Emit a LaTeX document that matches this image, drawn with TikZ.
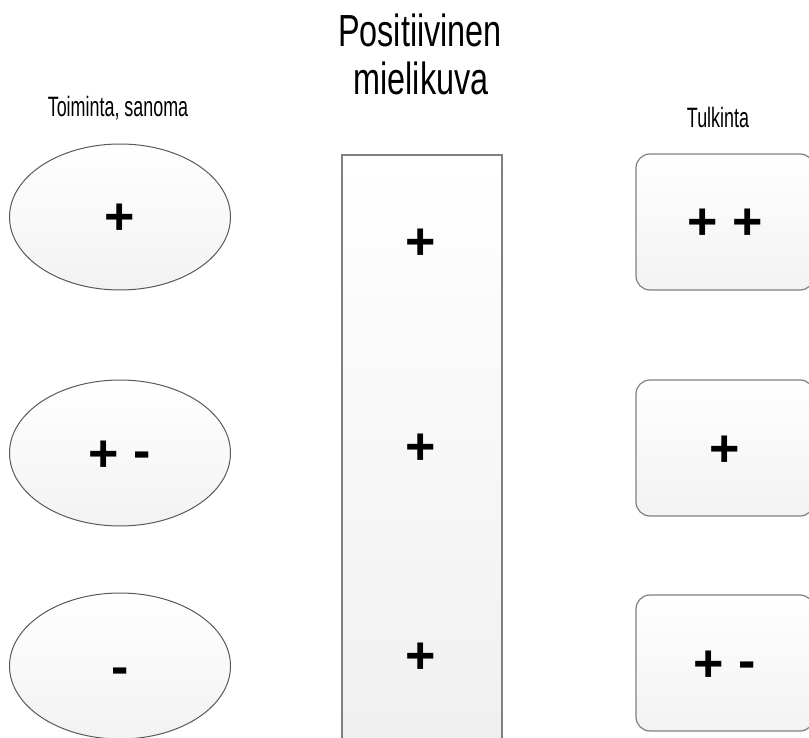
\documentclass[tikz,border=0pt]{standalone}
\usepackage{fontspec}
\usepackage{xcolor}
\usetikzlibrary{shapes}
\usetikzlibrary{shapes.geometric}
\newfontfamily\narrowfont[FakeStretch=0.64]{Liberation Sans}
\newfontfamily\titlefont[FakeStretch=0.72]{Liberation Sans}
\newfontfamily\signfont{Liberation Sans}
\newcommand{\minus}{\raisebox{3pt}{-}}

\begin{document}
\begin{tikzpicture}[x=1pt,y=-1pt,
	sign/.style={font=\signfont\bfseries\fontsize{52}{52}\selectfont,text height=36pt,text depth=0pt},
	oval/.style={ellipse,draw=black!65,line width=1pt,top color=white,bottom color=black!5,
		minimum width=221pt,minimum height=146pt,inner sep=0pt,sign},
	roundbox/.style={rectangle,rounded corners=14pt,draw=black!50,line width=1.2pt,
		top color=white,bottom color=black!5,minimum width=178pt,minimum height=136pt,sign},
	caption/.style={anchor=base,font=\narrowfont\fontsize{28}{28}\selectfont}]
	\useasboundingbox (0,0) rectangle (809,738);

	% otsikot
	\node[anchor=base,font=\titlefont\fontsize{45}{45}\selectfont] (title1) at (420,47) {Positiivinen};
	\node[anchor=base,font=\titlefont\fontsize{45}{45}\selectfont] (title2) at (421,95) {mielikuva};
	\node[caption] (toiminta) at (118,117) {Toiminta, sanoma};
	\node[caption] (tulkinta) at (718,128) {Tulkinta};

	% toiminta
	\node[oval] (act1) at (120,217) {+};
	\node[oval] (act2) at (120,453) {+ \minus};
	\node[oval] (act3) at (120,666) {-};

	% mielikuva
	\node[rectangle,draw=black!50,line width=1.2pt,top color=white,bottom color=black!6,
		minimum width=160pt,minimum height=590pt] (bar) at (422,450) {};
	\node[sign] (img1) at (421,242) {+};
	\node[sign] (img2) at (421,446) {+};
	\node[sign] (img3) at (421,655) {+};

	% tulkinta
	\node[roundbox] (int1) at (725,222) {+ +};
	\node[roundbox] (int2) at (725,448) {+};
	\node[roundbox] (int3) at (725,663) {+ \minus};
\end{tikzpicture}
\end{document}
